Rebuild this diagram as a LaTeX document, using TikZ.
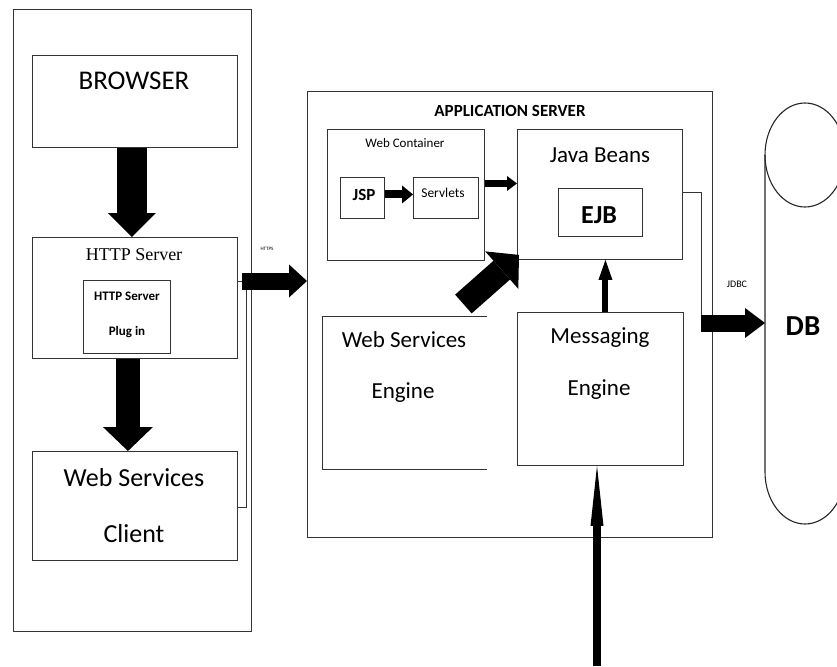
\documentclass[tikz,border=0pt]{standalone}
\usepackage{fontspec}
\setmainfont{Carlito}
\newfontfamily\serifhead{Liberation Serif}
\usetikzlibrary{arrows.meta}
\newcommand{\setfs}[1]{\fontsize{#1}{#1}\selectfont}

\tikzset{
  box/.style={draw=black!80, line width=0.9pt, inner sep=0pt, anchor=north west},
  openbox/.style={inner sep=0pt, anchor=north west},
  txt/.style={anchor=base, inner sep=0pt, text=black},
  wire/.style={draw=black!80, line width=0.9pt},
  dbline/.style={draw=black!85, line width=1.1pt},
  fat/.style n args={3}{draw=black, line width=#1,
    -{Triangle[length=#2, width=#3, line width=0pt]}},
}

\begin{document}
\begin{tikzpicture}[x=1pt, y=-1pt]
\useasboundingbox (0,0) rectangle (837,666);

% ---------- client side ----------
\node[box, minimum width=238pt, minimum height=622pt] (client) at (13,9) {};
\node[box, minimum width=205pt, minimum height=92pt]  (browser) at (32,55) {};
\node[box, minimum width=205pt, minimum height=121pt] (http) at (32,237) {};
\node[box, minimum width=87pt,  minimum height=73pt]  (plugin) at (83,280) {};
\node[box, minimum width=205pt, minimum height=109pt] (wsc) at (32,451) {};

\node[txt, font=\setfs{27}] (tbrowser) at (134,90) {BROWSER};
\node[txt, font=\serifhead\setfs{18}] (thttp) at (134,260) {HTTP Server};
\node[txt, font=\bfseries\setfs{13}] (tplug1) at (127,300) {HTTP Server};
\node[txt, font=\bfseries\setfs{13}] (tplug2) at (127,335) {Plug in};
\node[txt, font=\setfs{26}] (twsc1) at (134,486) {Web Services};
\node[txt, font=\setfs{26}] (twsc2) at (134,542) {Client};

\draw[fat={30pt}{24pt}{48pt}] ([xshift=-3pt]browser.south) -- ([xshift=-3pt]http.north);
\draw[fat={24pt}{24pt}{50pt}] ([xshift=-7pt]http.south) -- ([xshift=-7pt]wsc.north);

% ---------- application server ----------
\node[box, minimum width=405pt, minimum height=446pt] (app) at (307,91) {};
\node[box, minimum width=157pt, minimum height=131pt] (wc) at (327,129) {};
\node[box, minimum width=44pt,  minimum height=41pt]  (jsp) at (340,177) {};
\node[box, minimum width=65pt,  minimum height=41pt]  (servlets) at (413,177) {};
\node[box, minimum width=165pt, minimum height=130pt] (jb) at (517,129) {};
\node[box, minimum width=84pt,  minimum height=48pt]  (ejb) at (558,188) {};
\node[openbox, minimum width=165pt, minimum height=153pt] (wse) at (322,316) {};
\draw[wire] (wse.north east) -- (wse.north west) -- (wse.south west) -- (wse.south east);
\node[box, minimum width=166pt, minimum height=153pt] (me) at (517,312) {};

\node[txt, font=\bfseries\setfs{17}] (tapp) at (510,117) {APPLICATION SERVER};
\node[txt, font=\setfs{13}] (twc) at (405,147) {Web Container};
\node[txt, font=\bfseries\setfs{17}] (tjsp) at (364,200) {JSP};
\node[txt, font=\setfs{13.5}] (tserv) at (443,197) {Servlets};
\node[txt, font=\setfs{23}] (tjb) at (600,162) {Java Beans};
\node[txt, font=\bfseries\setfs{26}] (tejb) at (599,223) {EJB};
\node[txt, font=\setfs{23}] (twse1) at (404,347) {Web Services};
\node[txt, font=\setfs{23}] (twse2) at (403,398) {Engine};
\node[txt, font=\setfs{23}] (tme1) at (600,343) {Messaging};
\node[txt, font=\setfs{23}] (tme2) at (599,395) {Engine};

% HTTPS link from the client side
\coordinate (httpsfrom) at (242,281);
\draw[wire] (http.east |- httpsfrom) -- (httpsfrom);
\draw[wire] (wsc.east |- 0,507) -| (246,289);
\draw[fat={17pt}{18pt}{33pt}] (httpsfrom) -- (app.west |- httpsfrom);
\node[txt, font=\setfs{5}] (thttps) at (267,250) {HTTPS};

% arrows inside the server
\draw[fat={8pt}{11pt}{18pt}] ([yshift=3.5pt]jsp.east) -- ([yshift=3.5pt]servlets.west);
\draw[fat={7pt}{10pt}{15pt}] ([yshift=11.5pt]wc.east) -- ([yshift=11.5pt]wc.east -| jb.west);
\draw[fat={25pt}{23pt}{50pt}] ([shift={(-24pt,12pt)}]wse.north east) -- ([shift={(2pt,5pt)}]jb.south west);
\draw[fat={6pt}{20pt}{14pt}] ([xshift=5pt]me.north) -- ([xshift=5pt]me.north |- jb.south);

% incoming messages from below
\coordinate (mqin) at (597,666);
\draw[fat={8pt}{60pt}{13pt}] (mqin) -- (mqin |- me.south);

% ---------- database cylinder (runs off the right edge) ----------
\coordinate (dbtop) at (805,155);
\coordinate (dbbot) at (805,472);
\draw[dbline] (dbtop) ellipse [x radius=40pt, y radius=52pt];
\draw[dbline] ([xshift=-40pt]dbtop) -- ([xshift=-40pt]dbbot)
  arc[start angle=180, end angle=360, x radius=40pt, y radius=52pt];
\coordinate (dbside) at ([xshift=-40pt]dbtop |- 0,323);
\node[txt, font=\bfseries\setfs{29}] (tdb) at (803,335) {DB};

% JDBC link
\coordinate (jdbcbend) at (701,323);
\draw[wire] ([yshift=2pt]jb.east) -| (jdbcbend);
\draw[fat={17pt}{20pt}{30pt}] (jdbcbend) -- (dbside);
\node[txt, font=\setfs{10}] (tjdbc) at (737,287) {JDBC};

\end{tikzpicture}
\end{document}
